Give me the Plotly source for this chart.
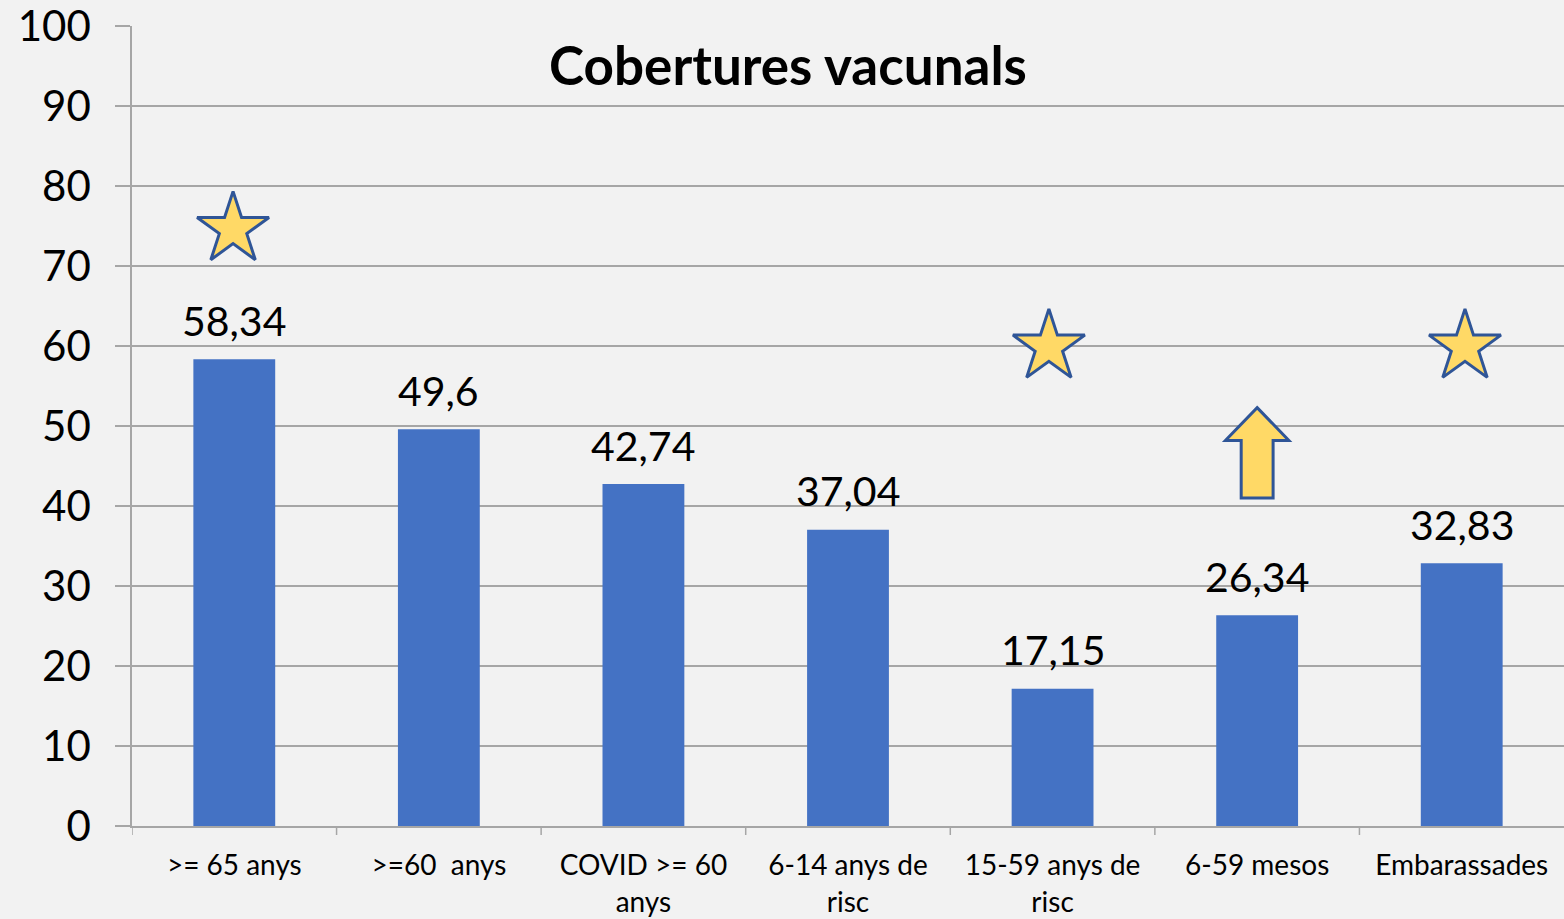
import plotly.graph_objects as go

# Vaccination coverage (%) by group
categories = [">= 65 anys", ">=60  anys", "COVID >= 60<br>anys", "6-14 anys de<br>risc",
              "15-59 anys de<br>risc", "6-59 mesos", "Embarassades"]
coverage = [58.34, 49.6, 42.74, 37.04, 17.15, 26.34, 32.83]

# Star highlights (category index, height)
star_idx = [0, 4, 6]
star_offset = [-0.006, -0.018, 0.016]
star_y = [74.6, 59.9, 59.9]

# Upward arrow over the 6-59 mesos group
arrow_idx = 5
arrow_offset = 0.0
arrow_tip_y = 52.3
arrow_head_y = 48.2
arrow_base_y = 41.0
arrow_head_half = 0.155
arrow_shaft_half = 0.078

BLUE = "#4472C4"
STAR_FILL = "#FFD966"
STAR_LINE = "#2F5597"
GRID = "#A6A6A6"
FONT = "Lato"

fig = go.Figure()
fig.add_trace(go.Bar(
    x=list(range(len(categories))), y=coverage, width=0.4,
    marker=dict(color=BLUE, line=dict(width=0)),
    showlegend=False, hoverinfo="skip",
))
# Value labels above each bar
for i, v in enumerate(coverage):
    fig.add_annotation(x=i, y=v, text=f"{v:g}".replace(".", ","), showarrow=False,
                       xref="x", yref="y", yanchor="middle", yshift=39,
                       font=dict(size=41, color="black", family=FONT))

fig.add_trace(go.Scatter(
    x=[i + o for i, o in zip(star_idx, star_offset)], y=star_y, mode="markers",
    marker=dict(symbol="star", size=54, color=STAR_FILL,
                line=dict(color=STAR_LINE, width=3)),
    showlegend=False, hoverinfo="skip",
))

ax = arrow_idx + arrow_offset
arrow_path = (
    f"M {ax} {arrow_tip_y} "
    f"L {ax + arrow_head_half} {arrow_head_y} "
    f"L {ax + arrow_shaft_half} {arrow_head_y} "
    f"L {ax + arrow_shaft_half} {arrow_base_y} "
    f"L {ax - arrow_shaft_half} {arrow_base_y} "
    f"L {ax - arrow_shaft_half} {arrow_head_y} "
    f"L {ax - arrow_head_half} {arrow_head_y} Z"
)
fig.add_shape(type="path", path=arrow_path, xref="x", yref="y",
              fillcolor=STAR_FILL, line=dict(color=STAR_LINE, width=3))

fig.update_layout(
    width=1564, height=919,
    margin=dict(l=132, r=0, t=26, b=93, autoexpand=False),
    paper_bgcolor="#F2F2F2", plot_bgcolor="#F2F2F2",
    separators=",.",
    title=dict(text="<b>Cobertures vacunals</b>", x=788 / 1564, xanchor="center",
               y=1 - 66 / 919, yanchor="middle",
               font=dict(size=53, color="black", family=FONT)),
    font=dict(family=FONT, color="black"),
)
fig.update_xaxes(
    tickmode="array", tickvals=list(range(len(categories))), ticktext=categories,
    range=[-0.5, len(categories) - 0.5], automargin=False,
    showline=True, linecolor=GRID, linewidth=1.5,
    ticks="", showgrid=False, zeroline=False, ticklabelstandoff=14,
    ticklabeloverflow="allow",
    tickfont=dict(size=28, family=FONT),
)
# Boundary tick marks below the x axis
for b in range(len(categories)):
    fig.add_shape(type="line", xref="x", yref="paper", x0=b - 0.5, x1=b - 0.5,
                  y0=0, y1=-9 / 800, line=dict(color=GRID, width=1.5))
fig.update_yaxes(
    range=[0, 100], tickvals=list(range(0, 101, 10)), automargin=False,
    showline=True, linecolor=GRID, linewidth=1.5,
    showgrid=True, gridcolor=GRID, gridwidth=1.5,
    ticks="outside", ticklen=15, tickcolor=GRID, tickwidth=1.5,
    zeroline=False, ticklabelstandoff=16, ticklabeloverflow="allow",
    tickfont=dict(size=42, family=FONT),
)

fig.write_html("out.html")
